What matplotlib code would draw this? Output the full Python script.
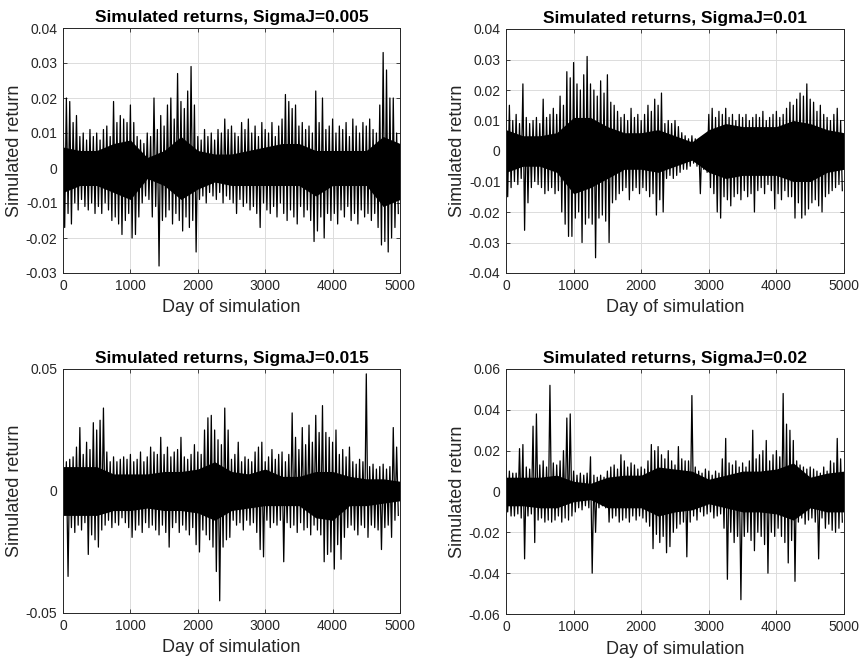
import numpy as np
import matplotlib
matplotlib.use('Agg')
from matplotlib import pyplot as plt
from matplotlib.ticker import FuncFormatter

plt.rcParams['font.family'] = ['Liberation Sans', 'DejaVu Sans']
plt.rcParams['axes.unicode_minus'] = False

# ---- values, in units of 0.001 ----
# upper peaks at days 0, 50, 100, ... and lower troughs at days 25, 75, ...
hi_005 = [18, 20, 19, 13, 15, 9, 10, 8, 11, 9,
          10, 8, 11, 12, 9, 19, 13, 15, 14, 13,
          18, 13, 9, 8, 7, 10, 9, 20, 11, 15,
          12, 18, 20, 14, 27, 19, 17, 22, 29, 18,
          9, 8, 11, 9, 10, 8, 11, 10, 14, 11,
          12, 10, 9, 13, 11, 14, 10, 12, 9, 13,
          11, 10, 13, 9, 12, 14, 21, 19, 17, 18,
          12, 13, 11, 12, 10, 22, 13, 20, 11, 12,
          14, 10, 12, 11, 13, 9, 14, 12, 10, 13,
          12, 14, 11, 10, 18, 33, 28, 20, 20, 10]
lo_005 = [-17, -13, -16, -10, -12, -9, -11, -12, -10, -13,
          -11, -13, -10, -12, -15, -14, -16, -19, -15, -13,
          -20, -19, -14, -10, -8, -9, -14, -11, -28, -15,
          -14, -12, -16, -13, -15, -18, -14, -17, -15, -24,
          -9, -8, -10, -7, -8, -9, -7, -10, -8, -9,
          -10, -13, -9, -11, -10, -12, -11, -13, -17, -10,
          -12, -13, -11, -14, -10, -13, -15, -12, -14, -16,
          -11, -14, -12, -15, -21, -18, -14, -20, -13, -15,
          -13, -16, -12, -14, -11, -15, -13, -16, -12, -14,
          -13, -15, -13, -17, -22, -21, -24, -20, -17, -13]
# solid core of the band, every 250 days
core_hi_005 = [6, 5, 5, 7, 8, 3, 5, 9, 5, 4, 4, 5, 6, 7, 7, 5, 5, 5, 5, 9, 7]
core_lo_005 = [-7, -5, -5, -7, -9, -3, -5, -9, -6, -4, -5, -5, -5, -5, -5,
               -8, -5, -5, -5, -11, -9]

hi_01 = [13, 15, 10, 12, 9, 22, 11, 9, 10, 11,
         9, 17, 11, 12, 14, 12, 18, 15, 26, 24,
         29, 22, 20, 25, 31, 22, 20, 18, 23, 19,
         25, 16, 15, 13, 11, 12, 10, 14, 11, 12,
         10, 12, 15, 13, 17, 15, 19, 9, 10, 9,
         10, 8, 6, 5, 4, 5, 4, 3, 4, 5,
         12, 14, 11, 13, 12, 14, 11, 12, 10, 12,
         11, 12, 10, 11, 12, 11, 13, 10, 11, 12,
         13, 11, 12, 14, 16, 15, 17, 19, 18, 22,
         17, 16, 13, 15, 12, 11, 10, 12, 14, 10]
lo_01 = [-15, -12, -10, -11, -9, -26, -17, -12, -10, -11,
         -12, -14, -13, -12, -14, -13, -20, -24, -28, -28,
         -22, -20, -30, -24, -22, -24, -35, -22, -21, -23,
         -30, -17, -16, -14, -13, -12, -16, -13, -12, -14,
         -12, -13, -15, -14, -21, -16, -20, -9, -8, -9,
         -8, -7, -6, -6, -5, -4, -5, -14, -6, -7,
         -12, -14, -20, -22, -15, -16, -18, -15, -14, -16,
         -13, -15, -14, -20, -13, -12, -14, -11, -13, -19,
         -14, -16, -13, -15, -15, -22, -17, -22, -21, -19,
         -17, -16, -18, -20, -15, -14, -13, -12, -11, -13]
core_hi_01 = [7, 5, 5, 6, 11, 11, 8, 6, 6, 7, 5, 3, 7, 9, 8, 8, 8, 10, 9, 7, 6]
core_lo_01 = [-7, -5, -5, -7, -14, -12, -9, -6, -6, -7, -5, -3, -7, -9, -8,
              -8, -8, -10, -10, -7, -6]

hi_015 = [14, 12, 13, 14, 18, 26, 15, 20, 17, 28,
          25, 29, 34, 16, 12, 14, 12, 13, 14, 13,
          15, 12, 13, 16, 12, 14, 18, 16, 15, 22,
          15, 18, 14, 16, 17, 22, 14, 13, 15, 19,
          16, 15, 25, 30, 31, 25, 21, 19, 34, 25,
          13, 15, 20, 12, 14, 13, 12, 16, 18, 20,
          12, 14, 17, 13, 15, 16, 12, 15, 32, 22,
          17, 26, 19, 27, 20, 31, 24, 35, 24, 22,
          20, 25, 15, 17, 14, 18, 12, 11, 13, 12,
          48, 10, 11, 9, 10, 11, 9, 10, 26, 18]
lo_015 = [-9, -35, -15, -17, -14, -16, -13, -26, -18, -20,
          -23, -16, -14, -12, -15, -13, -14, -11, -13, -15,
          -19, -16, -14, -17, -13, -15, -14, -16, -18, -14,
          -17, -23, -15, -13, -17, -14, -16, -18, -15, -22,
          -25, -16, -18, -20, -23, -33, -45, -23, -20, -19,
          -12, -14, -13, -16, -12, -14, -13, -17, -24, -27,
          -12, -15, -13, -14, -12, -29, -13, -15, -14, -17,
          -13, -16, -15, -18, -14, -16, -18, -29, -26, -25,
          -32, -22, -28, -19, -15, -14, -16, -18, -14, -15,
          -19, -14, -15, -16, -24, -15, -14, -19, -12, -10]
core_hi_015 = [10, 10, 10, 7, 7, 7, 8, 8, 9, 12, 8, 7, 9, 6, 6, 8, 8, 6, 5, 5, 4]
core_lo_015 = [-10, -10, -10, -8, -8, -7, -8, -8, -9, -12, -8, -7, -6, -6, -6,
               -11, -12, -6, -6, -5, -4]

hi_02 = [13, 10, 9, 9, 21, 23, 12, 11, 32, 38,
         13, 15, 12, 52, 14, 13, 15, 20, 36, 38,
         10, 8, 9, 8, 9, 17, 8, 7, 8, 7,
         10, 12, 13, 11, 18, 15, 12, 14, 13, 11,
         12, 11, 15, 23, 20, 22, 18, 16, 20, 15,
         13, 22, 16, 15, 15, 47, 12, 10, 9, 11,
         10, 8, 10, 9, 16, 26, 14, 13, 15, 12,
         14, 12, 15, 30, 16, 18, 20, 25, 15, 18,
         20, 17, 48, 33, 30, 25, 15, 13, 12, 11,
         12, 11, 10, 9, 12, 10, 15, 14, 26, 16]
lo_02 = [-10, -12, -12, -11, -13, -33, -12, -11, -25, -14,
         -13, -15, -14, -15, -14, -12, -15, -13, -14, -12,
         -10, -8, -9, -7, -8, -40, -20, -8, -7, -8,
         -15, -13, -12, -15, -14, -13, -15, -12, -14, -12,
         -13, -15, -17, -28, -21, -25, -22, -30, -27, -20,
         -18, -16, -15, -32, -15, -12, -14, -10, -12, -11,
         -10, -13, -12, -11, -18, -43, -20, -25, -22, -53,
         -22, -20, -24, -29, -20, -22, -26, -40, -20, -22,
         -18, -22, -25, -35, -24, -44, -15, -13, -16, -14,
         -13, -15, -33, -13, -18, -16, -19, -20, -18, -15]
core_hi_02 = [7, 7, 7, 8, 5, 4, 7, 8, 8, 12, 11, 10, 6, 8, 10, 10, 11, 14, 7, 9, 10]
core_lo_02 = [-7, -7, -8, -8, -5, -4, -8, -8, -8, -12, -10, -9, -6, -8, -10,
              -10, -11, -14, -8, -10, -10]

sigmas = ['0.005', '0.01', '0.015', '0.02']
yticks = [np.arange(-0.03, 0.041, 0.01),
          np.arange(-0.04, 0.041, 0.01),
          [-0.05, 0, 0.05],
          np.arange(-0.06, 0.061, 0.02)]
ylims = [(-0.03, 0.04), (-0.04, 0.04), (-0.05, 0.05), (-0.06, 0.06)]
series = [(hi_005, lo_005, core_hi_005, core_lo_005),
          (hi_01, lo_01, core_hi_01, core_lo_01),
          (hi_015, lo_015, core_hi_015, core_lo_015),
          (hi_02, lo_02, core_hi_02, core_lo_02)]

W, H = 862, 663
# axes boxes in pixels: left, top, right, bottom
boxes = [(63, 28, 400, 273), (506, 29, 844, 273),
         (63, 369, 400, 613), (506, 369, 844, 614)]

fig = plt.figure(figsize=(W / 100, H / 100), dpi=100)
grey = '#262626'

for k in range(4):
    l, t, r, b = boxes[k]
    ax = fig.add_axes([l / W, 1 - b / H, (r - l) / W, (b - t) / H])
    hi, lo, chi, clo = [np.array(a) / 1000.0 for a in series[k]]

    # solid core
    cdays = np.arange(len(chi)) * 250
    ax.fill_between(cdays, clo, chi, color='black', lw=0)

    # spikes: alternate peak / trough
    days = np.empty(2 * len(hi))
    vals = np.empty(2 * len(hi))
    days[0::2] = np.arange(len(hi)) * 50
    days[1::2] = np.arange(len(lo)) * 50 + 25
    vals[0::2] = hi
    vals[1::2] = lo
    ax.plot(days, vals, color='black', lw=0.9)

    ax.set_xlim(0, 5000)
    ax.set_ylim(*ylims[k])
    ax.set_xticks(np.arange(0, 5001, 1000))
    ax.set_yticks(yticks[k])
    ax.yaxis.set_major_formatter(FuncFormatter(lambda v, p: '%g' % round(v, 4)))
    ax.grid(True, color='#dcdcdc', lw=0.7)
    ax.set_axisbelow(True)
    ax.tick_params(direction='in', length=3, width=0.6, colors=grey,
                   labelsize=10, top=True, right=True, pad=4)
    for s in ax.spines.values():
        s.set_color(grey)
        s.set_linewidth(0.7)
    ax.set_title('Simulated returns, SigmaJ=' + sigmas[k], fontsize=12.5,
                 fontweight='bold', pad=4)
    ax.set_xlabel('Day of simulation', fontsize=13, color=grey, labelpad=5)
    ax.set_ylabel('Simulated return', fontsize=13, color=grey, labelpad=2)

fig.savefig('out.png', dpi=100)
